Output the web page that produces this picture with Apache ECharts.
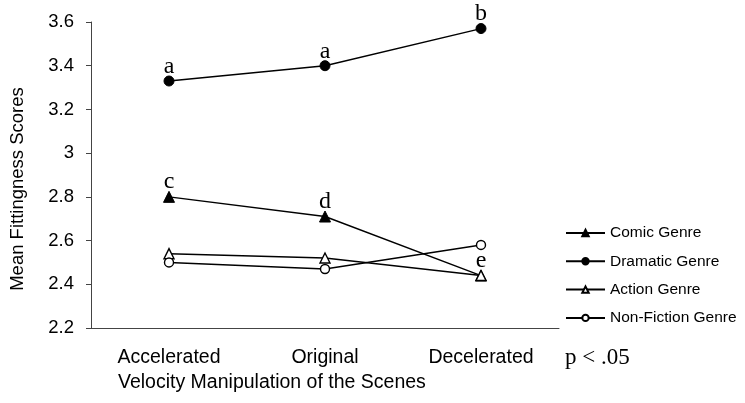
<!DOCTYPE html>
<html>
<head>
<meta charset="utf-8">
<script src="https://cdn.jsdelivr.net/npm/echarts@6/dist/echarts.min.js"></script>
<style>
  html, body { margin: 0; padding: 0; background: #fff; }
  #chart { width: 745px; height: 403px; }
</style>
</head>
<body>
<div id="chart"></div>
<script>
// Velocity conditions along the x axis
const categories = ['Accelerated', 'Original', 'Decelerated'];

// Mean fittingness score per genre
const comicGenre = [2.80, 2.71, 2.44];
const dramaticGenre = [3.33, 3.40, 3.57];
const actionGenre = [2.54, 2.52, 2.44];
const nonFictionGenre = [2.50, 2.47, 2.58];

// Significance letters shown above points
const comicLetters = ['c', 'd', 'e'];
const dramaticLetters = ['a', 'a', 'b'];

const yTicks = { min: 2.2, max: 3.6, step: 0.2 };

const sans = '"Liberation Sans", Arial, sans-serif';
const serif = '"Liberation Serif", "Times New Roman", serif';

const letterLabel = (letters) => ({
  show: true,
  position: 'top',
  distance: -3,
  fontFamily: serif,
  fontSize: 24,
  color: '#000',
  formatter: (p) => letters[p.dataIndex] || ''
});

const baseLine = { color: '#000', width: 1.4 };

const chart = echarts.init(document.getElementById('chart'));
chart.setOption({
  animation: false,
  textStyle: { fontFamily: sans },
  grid: { left: 91, right: 186, top: 22, bottom: 75, containLabel: false },
  xAxis: {
    type: 'category',
    data: categories,
    boundaryGap: true,
    axisLine: { lineStyle: { color: '#444', width: 1 } },
    axisTick: { show: false },
    axisLabel: { color: '#000', fontSize: 19.5, margin: 20 }
  },
  yAxis: {
    type: 'value',
    min: yTicks.min,
    max: yTicks.max,
    interval: yTicks.step,
    splitLine: { show: false },
    axisLine: { show: true, lineStyle: { color: '#444', width: 1 } },
    axisTick: { show: true, length: 5, lineStyle: { color: '#444' } },
    axisLabel: {
      color: '#000',
      fontSize: 18.5,
      margin: 17,
      formatter: (v) => String(Math.round(v * 10) / 10)
    }
  },
  legend: {
    orient: 'vertical',
    left: 560,
    top: 220,
    itemWidth: 39,
    itemHeight: 8,
    itemGap: 12.3,
    textStyle: { color: '#000', fontSize: 15.5, lineHeight: 16 },
    data: ['Comic Genre', 'Dramatic Genre', 'Action Genre', 'Non-Fiction Genre']
  },
  graphic: [
    {
      type: 'text',
      left: 118,
      top: 373,
      style: { text: 'Velocity Manipulation of the Scenes', fontSize: 19.5, fill: '#000', fontFamily: sans }
    },
    {
      type: 'text',
      x: 17.5,
      y: 189,
      rotation: Math.PI / 2,
      style: {
        text: 'Mean Fittingness Scores',
        fontSize: 18.5,
        fill: '#000',
        align: 'center',
        verticalAlign: 'middle',
        fontFamily: sans
      }
    },
    {
      type: 'text',
      left: 565,
      top: 346,
      style: { text: 'p < .05', fontSize: 23, fill: '#000', fontFamily: serif }
    }
  ],
  series: [
    {
      name: 'Comic Genre',
      type: 'line',
      data: comicGenre,
      symbol: 'triangle',
      symbolSize: 11,
      lineStyle: baseLine,
      itemStyle: { color: '#000', borderColor: '#000', borderWidth: 1 },
      label: letterLabel(comicLetters),
      z: 2
    },
    {
      name: 'Dramatic Genre',
      type: 'line',
      data: dramaticGenre,
      symbol: 'circle',
      symbolSize: 10,
      lineStyle: baseLine,
      itemStyle: { color: '#000', borderColor: '#000', borderWidth: 1 },
      label: letterLabel(dramaticLetters),
      z: 2
    },
    {
      name: 'Action Genre',
      type: 'line',
      data: actionGenre,
      symbol: 'triangle',
      symbolSize: 10,
      lineStyle: baseLine,
      itemStyle: { color: '#fff', borderColor: '#000', borderWidth: 1.4 },
      z: 3
    },
    {
      name: 'Non-Fiction Genre',
      type: 'line',
      data: nonFictionGenre,
      symbol: 'circle',
      symbolSize: 9,
      lineStyle: baseLine,
      itemStyle: { color: '#fff', borderColor: '#000', borderWidth: 1.4 },
      z: 3
    }
  ]
});
</script>
</body>
</html>
